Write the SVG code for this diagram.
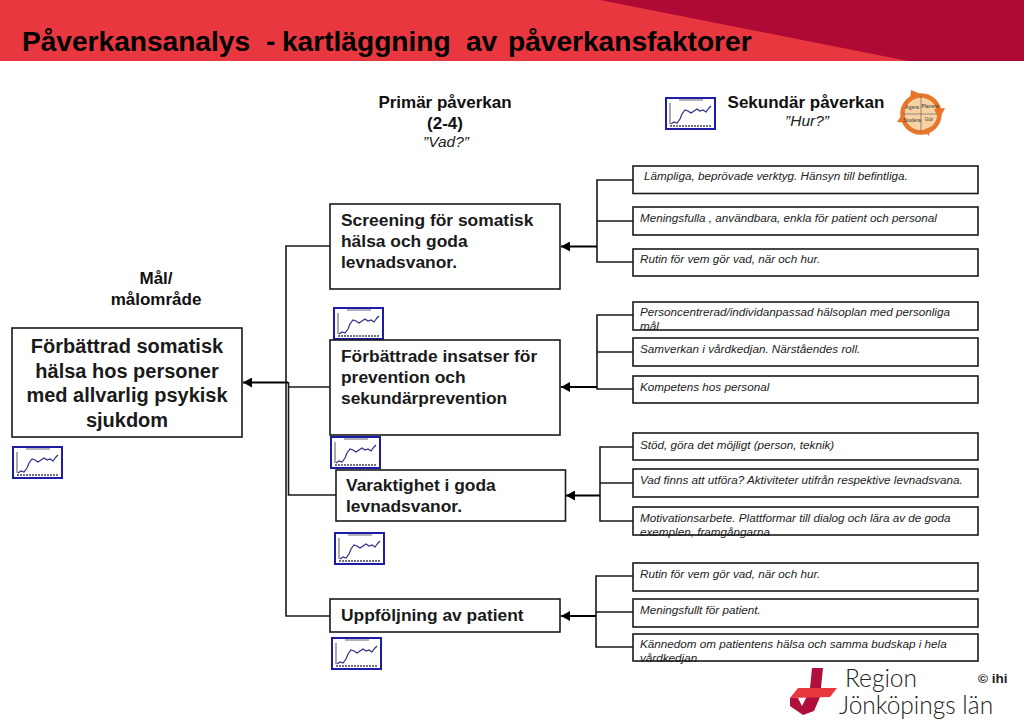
<svg xmlns="http://www.w3.org/2000/svg" width="1024" height="725" viewBox="0 0 1024 725">
<style>
text{font-family:"Liberation Sans",Arial,sans-serif;fill:#111}
.box{fill:#fff;stroke:#1a1a1a;stroke-width:1.6}
.sec{fill:#fff;stroke:#1a1a1a;stroke-width:1.6}
.con{fill:none;stroke:#1a1a1a;stroke-width:1.6}
.arr{fill:none;stroke:#000;stroke-width:2}
.h{font-weight:bold;font-size:17px;text-anchor:middle}
.p{font-weight:bold;font-size:17.4px;fill:#1a1a1a}
.g{font-weight:bold;font-size:20px;text-anchor:middle;fill:#1a1a1a}
.s{font-style:italic;font-size:11.7px;fill:#222}
.q{font-style:italic;font-size:15.5px;text-anchor:middle;fill:#222}
.t{font-size:5px;text-anchor:middle;fill:#333}
.l{font-family:Lato,sans-serif;font-weight:300;font-size:24.5px;fill:#222}
</style>
<defs>
<marker id="ah" markerUnits="userSpaceOnUse" markerWidth="10" markerHeight="10" refX="9" refY="5" orient="auto"><path d="M0 0L9 5L0 10Z" fill="#000"/></marker>
<g id="chart">
<rect x="1" y="1" width="49" height="31" fill="#fff" stroke="#1c1ca6" stroke-width="2"/>
<path d="M5 6V27" fill="none" stroke="#555" stroke-width="1"/>
<path d="M5 29H47" stroke="#445" stroke-width="1.5" stroke-dasharray="2 1" fill="none"/>
<path d="M14 3H38" stroke="#667" stroke-width="1" fill="none"/>
<path d="M6 27L9 25L12 26L15 22L17 17L20 13L23 14L26 16L29 14L32 12L35 14L38 13L41 15L44 11L46 9" fill="none" stroke="#2e2e86" stroke-width="1.2"/>
</g>
</defs>
<g id="header">
<rect x="0" y="0" width="1024" height="61" fill="#e9373f"/>
<path d="M600 0H1024V61H908Z" fill="#ae0a35"/>
<text y="50.500" font-size="28.100" font-weight="bold" style="fill:#000"><tspan x="22">Påverkansanalys</tspan><tspan x="266">-</tspan><tspan x="282">kartläggning</tspan><tspan x="466">av</tspan><tspan x="508">påverkansfaktorer</tspan></text>
</g>
<g id="connectors">
<path class="con" d="M330 246H286V616H330"/>
<path class="con" d="M330 387H289M336 495H288.500V382"/>
<path class="arr" d="M288 382.500H243" marker-end="url(#ah)"/>
<path class="con" d="M633 180H597V262H633M633 221H597"/>
<path class="arr" d="M597 246.500H561" marker-end="url(#ah)"/>
<path class="con" d="M633 315H597V389H633M633 352H597"/>
<path class="arr" d="M597 387H561" marker-end="url(#ah)"/>
<path class="con" d="M633 447H600V521H633M633 483H600"/>
<path class="arr" d="M600 495.500H566" marker-end="url(#ah)"/>
<path class="con" d="M633 576H596V647H633M633 612H596"/>
<path class="arr" d="M596 616H561" marker-end="url(#ah)"/>
</g>
<g id="headings">
<text class="h" x="445" y="108">Primär påverkan</text>
<text class="h" x="445" y="129">(2-4)</text>
<text class="q" x="446" y="147">”Vad?”</text>
<text class="h" x="806" y="108">Sekundär påverkan</text>
<text class="q" x="807" y="126">”Hur?”</text>
<text class="h" x="156" y="284">Mål/</text>
<text class="h" x="156" y="305">målområde</text>
</g>
<g id="chart-top"><use href="#chart" x="665" y="97"/></g>
<g id="pdsa">
<circle cx="921" cy="114" r="18.500" fill="#f9d2a4" stroke="#e8762a" stroke-width="4.500"/>
<path d="M921 96V132M903 114H939" stroke="#666" stroke-width="0.7"/>
<path d="M911 90L923 95L910 99ZM945 108L934 109L939 120ZM923 130L930 127L929 136ZM903 113L897 122L906 123Z" fill="#e8762a"/>
<text class="t" x="912" y="109">Agera</text>
<text class="t" x="930" y="108">Planera</text>
<text class="t" x="912" y="122">Studera</text>
<text class="t" x="929" y="121">Gör</text>
</g>
<g id="goal">
<rect class="box" x="12" y="328" width="230" height="109"/>
<text class="g" x="127" y="353">Förbättrad somatisk</text>
<text class="g" x="127" y="378">hälsa hos personer</text>
<text class="g" x="127" y="402">med allvarlig psykisk</text>
<text class="g" x="127" y="427">sjukdom</text>
</g>
<g id="chart-goal"><use href="#chart" x="12" y="446"/></g>
<g id="chart-p2"><use href="#chart" x="333" y="307"/></g>
<g id="chart-p3"><use href="#chart" x="330" y="436"/></g>
<g id="chart-p4"><use href="#chart" x="334" y="532"/></g>
<g id="chart-p5"><use href="#chart" x="331" y="637"/></g>
<g id="p1">
<rect class="box" x="330" y="204" width="230" height="85"/>
<text class="p" x="341" y="226">Screening för somatisk</text>
<text class="p" x="341" y="247">hälsa och goda</text>
<text class="p" x="341" y="268">levnadsvanor.</text>
</g>
<g id="p2">
<rect class="box" x="330" y="340" width="230" height="95"/>
<text class="p" x="341" y="362">Förbättrade insatser för</text>
<text class="p" x="341" y="383">prevention och</text>
<text class="p" x="341" y="404">sekundärprevention</text>
</g>
<g id="p3">
<rect class="box" x="336" y="470" width="229.500" height="51"/>
<text class="p" x="346" y="491">Varaktighet i goda</text>
<text class="p" x="346" y="512">levnadsvanor.</text>
</g>
<g id="p4">
<rect class="box" x="330" y="599" width="230" height="33"/>
<text class="p" x="341" y="621">Uppföljning av patient</text>
</g>
<g id="s1"><rect class="sec" x="633" y="166" width="345" height="27.500"/><text class="s" x="644" y="180">Lämpliga, beprövade verktyg. Hänsyn till befintliga.</text></g>
<g id="s2"><rect class="sec" x="633" y="207" width="345" height="28"/><text class="s" x="640" y="222">Meningsfulla , användbara, enkla för patient och personal</text></g>
<g id="s3"><rect class="sec" x="633" y="249" width="345" height="27"/><text class="s" x="640" y="263">Rutin för vem gör vad, när och hur.</text></g>
<g id="s4"><text class="s" x="640" y="316">Personcentrerad/individanpassad hälsoplan med personliga</text><text class="s" x="640" y="330">mål</text><rect class="sec" x="633" y="302" width="345" height="28" style="fill:none"/></g>
<g id="s5"><rect class="sec" x="633" y="338" width="345" height="28"/><text class="s" x="640" y="353">Samverkan i vårdkedjan. Närståendes roll.</text></g>
<g id="s6"><rect class="sec" x="633" y="376" width="345" height="27"/><text class="s" x="640" y="391">Kompetens hos personal</text></g>
<g id="s7"><rect class="sec" x="633" y="433" width="345" height="27"/><text class="s" x="640" y="449">Stöd, göra det möjligt (person, teknik)</text></g>
<g id="s8"><rect class="sec" x="633" y="469" width="345" height="28"/><text class="s" x="640" y="484">Vad finns att utföra? Aktiviteter utifrån respektive levnadsvana.</text></g>
<g id="s9"><text class="s" x="640" y="522">Motivationsarbete. Plattformar till dialog och lära av de goda</text><text class="s" x="640" y="536">exemplen, framgångarna</text><rect class="sec" x="633" y="507" width="345" height="28" style="fill:none"/></g>
<g id="s10"><rect class="sec" x="633" y="563" width="345" height="28"/><text class="s" x="640" y="578">Rutin för vem gör vad, när och hur.</text></g>
<g id="s11"><rect class="sec" x="633" y="599" width="345" height="28"/><text class="s" x="640" y="614">Meningsfullt för patient.</text></g>
<g id="s12"><text class="s" x="640" y="648">Kännedom om patientens hälsa  och samma budskap i hela</text><text class="s" x="640" y="662">vårdkedjan</text><rect class="sec" x="633" y="634" width="345" height="27" style="fill:none"/></g>
<g id="logo">
<path d="M812 668H823L820 697L814 711L803 715L790 706V698H798L802 706L806 698L810 688Z" fill="#ae0f3c"/>
<path d="M798 688H837L830 697L790 698Z" fill="#e9373f"/>
<text class="l" x="845" y="687">Region</text>
<text class="l" x="839" y="714">Jönköpings län</text>
<text x="978" y="683" font-size="13.500" font-weight="bold" style="fill:#222">© ihi</text>
</g>
</svg>
